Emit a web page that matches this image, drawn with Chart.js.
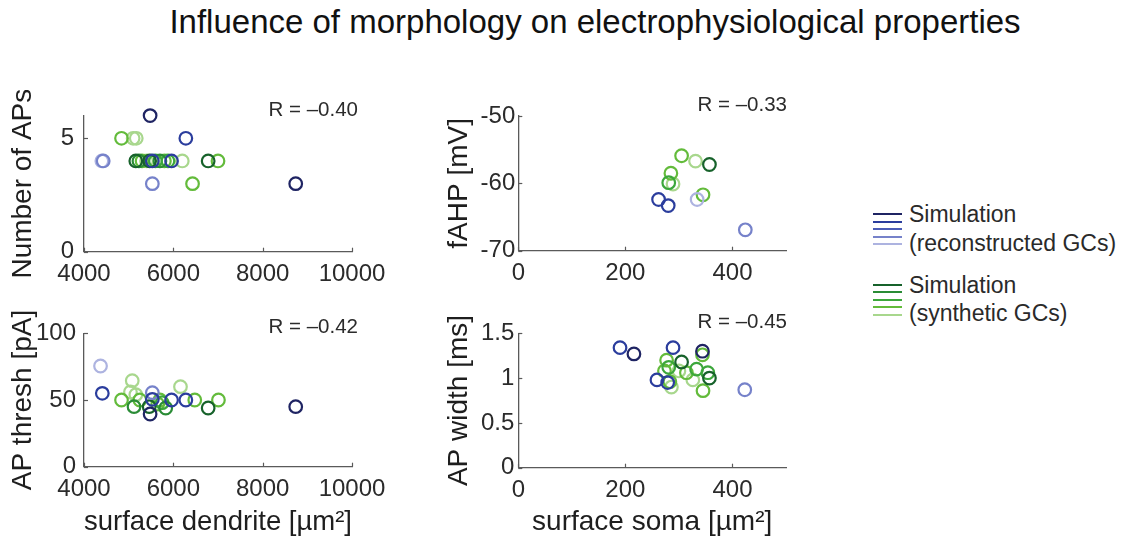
<!DOCTYPE html>
<html>
<head>
<meta charset="utf-8">
<script src="https://cdn.jsdelivr.net/npm/chart.js@4.4.1/dist/chart.umd.min.js"></script>
<style>
  html, body { margin: 0; padding: 0; background: #fff; }
  body { width: 1128px; height: 540px; position: relative; overflow: hidden;
         font-family: "Liberation Sans", Arial, Helvetica, sans-serif; color: #222; }
  canvas.pane { position: absolute; }
  #title { position: absolute; left: 595px; top: 2px; transform: translateX(-50%);
           font-size: 33px; line-height: 40px; white-space: nowrap; color: #111; }
  .swatch { position: absolute; left: 873px; width: 29px; height: 2px; }
  .legtext { position: absolute; left: 909px; font-size: 23px; line-height: 26px;
             white-space: nowrap; color: #2a2a2a; }
</style>
</head>
<body>
<div id="title">Influence of morphology on electrophysiological properties</div>

<canvas id="cAP" class="pane" width="400" height="210" style="left:0px;top:90px"></canvas>
<canvas id="cFAHP" class="pane" width="400" height="210" style="left:430px;top:90px"></canvas>
<canvas id="cThresh" class="pane" width="400" height="240" style="left:0px;top:300px"></canvas>
<canvas id="cWidth" class="pane" width="400" height="240" style="left:430px;top:300px"></canvas>

<div id="legend"></div>

<script>
// ---- cell groups: 0-4 reconstructed GCs (dark -> light), 5-9 synthetic GCs (dark -> light)
const groupLabels = ['rec 1', 'rec 2', 'rec 3', 'rec 4', 'rec 5',
                     'syn 1', 'syn 2', 'syn 3', 'syn 4', 'syn 5'];

// ---- number of APs vs. dendritic surface
const apCountDendrite = [5480, 4840, 5100, 5170, 6280, 4400, 4430, 5160, 5230, 5300, 5400, 5470,
                         5530, 5600, 5700, 5800, 5880, 5960, 6200, 6780, 7000, 5530, 6430, 8740];
const apCountValue    = [6, 5, 5, 5, 5, 4, 4, 4, 4, 4, 4, 4,
                         4, 4, 4, 4, 4, 4, 4, 4, 4, 3, 3, 3];
const apCountGroup    = [0, 8, 9, 9, 1, 4, 3, 5, 6, 8, 9, 5,
                         1, 7, 6, 8, 7, 1, 9, 5, 8, 3, 8, 0];

// ---- fAHP vs. somatic surface
const fahpSoma  = [305, 331, 357, 285, 281, 289, 262, 280, 334, 345, 424];
const fahpValue = [-55.9, -56.7, -57.2, -58.5, -59.9, -60.1, -62.4, -63.3, -62.4, -61.7, -66.9];
const fahpGroup = [8, 9, 5, 8, 7, 9, 1, 1, 4, 8, 3];

// ---- AP threshold current vs. dendritic surface
const threshDendrite = [4370, 4410, 5080, 4840, 5040, 5160, 5120, 5250, 5530, 5530, 5480, 5460,
                        5650, 5750, 5830, 5700, 5960, 6280, 6160, 6480, 6780, 7010, 8740];
const threshValue    = [75.5, 55, 64.5, 50, 56, 54, 45, 50, 55.5, 50.5, 39.5, 45,
                        47, 48, 44, 50, 50, 50, 60, 50, 44, 50, 45];
const threshGroup    = [4, 1, 9, 8, 9, 9, 6, 8, 3, 1, 0, 5,
                        8, 7, 6, 8, 1, 1, 9, 8, 5, 8, 0];

// ---- AP width vs. somatic surface
const widthSoma  = [190, 216, 289, 259, 279, 344, 344, 277, 305, 281, 273, 314, 333, 354, 357,
                    326, 283, 286, 345, 423, 300];
const widthValue = [1.34, 1.27, 1.34, 0.98, 0.95, 1.30, 1.26, 1.20, 1.18, 1.12, 1.08, 1.06, 1.10,
                    1.06, 1.00, 0.98, 0.96, 0.90, 0.86, 0.87, 1.08];
const widthGroup = [1, 0, 1, 1, 1, 0, 8, 8, 5, 7, 8, 8, 7, 7, 5, 9, 8, 9, 8, 3, 9];

// ---- axis ticks
const dendriteTicks = [4000, 6000, 8000, 10000];
const somaTicks     = [0, 200, 400];
const apCountTicks  = [0, 5];
const fahpTicks     = [-70, -60, -50];
const threshTicks   = [0, 50, 100];
const widthTicks    = [0, 0.5, 1, 1.5];

// ---- correlation coefficients shown in each panel
const corrLabels = ['R = \u20130.40', 'R = \u20130.33', 'R = \u20130.42', 'R = \u20130.45'];

// ---- legend
const legendEntries = [['Simulation', '(reconstructed GCs)'], ['Simulation', '(synthetic GCs)']];

// ---- styling
const groupColors = ['#1f2463', '#2b3d9d', '#4c5db7', '#7682ca', '#adb3e0',
                     '#17622b', '#2a8c36', '#3ca73b', '#63bb3b', '#a8d78d'];
const FONT = '"Liberation Sans", Arial, Helvetica, sans-serif';
const AXIS = '#5a5a5a';
const TEXT = '#2b2b2b';

function buildDatasets(xs, ys, groups) {
  const sets = [];
  groupLabels.forEach((label, g) => {
    const pts = [];
    xs.forEach((x, i) => { if (groups[i] === g) pts.push({ x: x, y: ys[i] }); });
    if (pts.length) {
      sets.push({
        label: label, data: pts, clip: false,
        borderColor: groupColors[g], backgroundColor: 'rgba(0,0,0,0)',
        pointRadius: 6.3, pointHoverRadius: 6.3, borderWidth: 2.2, pointStyle: 'circle'
      });
    }
  });
  return sets;
}

// inward tick marks (box-off style) plus the correlation label
const panelDecor = {
  id: 'panelDecor',
  afterDraw(chart, args, opts) {
    const { ctx, chartArea: a, scales: { x, y } } = chart;
    ctx.save();
    ctx.strokeStyle = AXIS;
    ctx.lineWidth = 1.2;
    x.ticks.forEach(t => {
      const px = Math.round(x.getPixelForValue(t.value)) + 0.5;
      ctx.beginPath(); ctx.moveTo(px, a.bottom); ctx.lineTo(px, a.bottom - 4); ctx.stroke();
    });
    y.ticks.forEach(t => {
      const py = Math.round(y.getPixelForValue(t.value)) + 0.5;
      ctx.beginPath(); ctx.moveTo(a.left, py); ctx.lineTo(a.left + 4, py); ctx.stroke();
    });
    ctx.fillStyle = TEXT;
    ctx.font = '20.5px ' + FONT;
    ctx.textAlign = 'right';
    ctx.textBaseline = 'middle';
    ctx.fillText(opts.text, opts.x, opts.y);
    ctx.restore();
  }
};

function makePanel(cfg) {
  const canvas = document.getElementById(cfg.id);
  return new Chart(canvas, {
    type: 'scatter',
    data: { datasets: buildDatasets(cfg.xs, cfg.ys, cfg.groups) },
    options: {
      responsive: false, animation: false, devicePixelRatio: 1,
      layout: { autoPadding: false, padding: { left: 0, top: cfg.padTop, right: cfg.padRight, bottom: 0 } },
      plugins: {
        legend: { display: false }, tooltip: { enabled: false },
        panelDecor: { text: cfg.rText, x: cfg.rX, y: cfg.rY }
      },
      scales: {
        x: {
          type: 'linear', min: cfg.xMin, max: cfg.xMax,
          afterFit: s => { s.height = cfg.xHeight; },
          afterBuildTicks: s => { s.ticks = cfg.xTicks.map(v => ({ value: v })); },
          grid: { display: false, drawTicks: false },
          border: { display: true, color: AXIS, width: 1.3 },
          ticks: { color: TEXT, padding: 8, maxRotation: 0, autoSkip: false,
                   font: { family: FONT, size: 24 }, callback: v => String(v) },
          title: { display: !!cfg.xTitle, text: cfg.xTitle || '', color: '#1e1e1e',
                   font: { family: FONT, size: 28 }, padding: { top: 0, bottom: 1 } }
        },
        y: {
          type: 'linear', min: cfg.yMin, max: cfg.yMax,
          afterFit: s => { s.width = cfg.yWidth; },
          afterBuildTicks: s => { s.ticks = cfg.yTicks.map(v => ({ value: v })); },
          grid: { display: false, drawTicks: false },
          border: { display: true, color: AXIS, width: 1.3 },
          ticks: { color: TEXT, padding: cfg.yTickPad, autoSkip: false,
                   font: { family: FONT, size: 24 }, callback: v => String(v) },
          title: { display: true, text: cfg.yTitle, color: '#1e1e1e',
                   font: { family: FONT, size: 28 }, padding: { top: cfg.yTitlePad, bottom: 0 } }
        }
      }
    },
    plugins: [panelDecor]
  });
}

// top-left: number of APs
makePanel({
  id: 'cAP', xs: apCountDendrite, ys: apCountValue, groups: apCountGroup,
  xMin: 4000, xMax: 10000, yMin: 0, yMax: 6, xTicks: dendriteTicks, yTicks: apCountTicks,
  padTop: 25.6, padRight: 48, yWidth: 84, xHeight: 48.3, yTickPad: 10, yTitlePad: 6.2,
  yTitle: 'Number of APs', rText: corrLabels[0], rX: 358, rY: 20
});
// top-right: fAHP
makePanel({
  id: 'cFAHP', xs: fahpSoma, ys: fahpValue, groups: fahpGroup,
  xMin: 0, xMax: 500, yMin: -70, yMax: -50, xTicks: somaTicks, yTicks: fahpTicks,
  padTop: 26, padRight: 44, yWidth: 88.3, xHeight: 49.3, yTickPad: 3, yTitlePad: 12.2,
  yTitle: 'fAHP [mV]', rText: corrLabels[1], rX: 357, rY: 15
});
// bottom-left: AP threshold
makePanel({
  id: 'cThresh', xs: threshDendrite, ys: threshValue, groups: threshGroup,
  xMin: 4000, xMax: 10000, yMin: 0, yMax: 100, xTicks: dendriteTicks, yTicks: threshTicks,
  padTop: 33.3, padRight: 48, yWidth: 84, xHeight: 73.3, yTickPad: 8, yTitlePad: 6.2,
  yTitle: 'AP thresh [pA]', xTitle: 'surface dendrite [\u00b5m\u00b2]',
  rText: corrLabels[2], rX: 358, rY: 27
});
// bottom-right: AP width
makePanel({
  id: 'cWidth', xs: widthSoma, ys: widthValue, groups: widthGroup,
  xMin: 0, xMax: 500, yMin: 0, yMax: 1.5, xTicks: somaTicks, yTicks: widthTicks,
  padTop: 33.3, padRight: 44, yWidth: 88.3, xHeight: 72.3, yTickPad: 4, yTitlePad: 12.2,
  yTitle: 'AP width [ms]', xTitle: 'surface soma [\u00b5m\u00b2]',
  rText: corrLabels[3], rX: 357, rY: 22
});

// legend: stacked colour swatches next to each label
(function buildLegend() {
  const host = document.getElementById('legend');
  const blockTop = [214, 284.5];
  legendEntries.forEach((lines, b) => {
    for (let k = 0; k < 5; k++) {
      const sw = document.createElement('div');
      sw.className = 'swatch';
      sw.style.top = (blockTop[b] - 1 + k * 7.6) + 'px';
      sw.style.background = groupColors[b * 5 + k];
      host.appendChild(sw);
    }
    lines.forEach((txt, j) => {
      const t = document.createElement('div');
      t.className = 'legtext';
      t.textContent = txt;
      t.style.top = (blockTop[b] - 13 + j * (b === 0 ? 29 : 28)) + 'px';
      host.appendChild(t);
    });
  });
})();
</script>
</body>
</html>
